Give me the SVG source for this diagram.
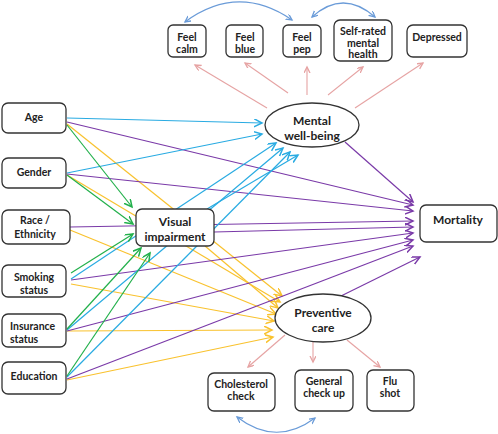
<svg xmlns="http://www.w3.org/2000/svg" width="498" height="434" viewBox="0 0 498 434">
<style>
.box{fill:#fff;stroke:#333;stroke-width:1.3}
.t{font-family:Lato,"Open Sans","Liberation Sans",sans-serif;font-weight:bold;fill:#222;text-anchor:middle}
.s{font-size:10.5px}
.m{font-size:12px}
.c{stroke:#29abe2;stroke-width:1.2;fill:none;marker-end:url(#hc)}
.p{stroke:#7a3aa8;stroke-width:1.2;fill:none;marker-end:url(#hp)}
.y{stroke:#f9c22e;stroke-width:1.2;fill:none;marker-end:url(#hy)}
.g{stroke:#22b04b;stroke-width:1.2;fill:none;marker-end:url(#hg)}
.k{stroke:#e6a3a3;stroke-width:1.1;fill:none;marker-end:url(#hk)}
.b{stroke:#6a9bd8;stroke-width:1.2;fill:none;marker-start:url(#hb);marker-end:url(#hb)}
</style>
<defs>
<marker id="hc" markerUnits="userSpaceOnUse" markerWidth="10" markerHeight="10" refX="8" refY="4" orient="auto"><path d="M0,0 L8,4 L0,8" fill="none" stroke="#29abe2" stroke-width="1.5"/></marker>
<marker id="hp" markerUnits="userSpaceOnUse" markerWidth="10" markerHeight="10" refX="8" refY="4" orient="auto"><path d="M0,0 L8,4 L0,8" fill="none" stroke="#7a3aa8" stroke-width="1.5"/></marker>
<marker id="hy" markerUnits="userSpaceOnUse" markerWidth="10" markerHeight="10" refX="8" refY="4" orient="auto"><path d="M0,0 L8,4 L0,8" fill="none" stroke="#f9c22e" stroke-width="1.5"/></marker>
<marker id="hg" markerUnits="userSpaceOnUse" markerWidth="10" markerHeight="10" refX="8" refY="4" orient="auto"><path d="M0,0 L8,4 L0,8" fill="none" stroke="#22b04b" stroke-width="1.5"/></marker>
<marker id="hk" markerUnits="userSpaceOnUse" markerWidth="8" markerHeight="8" refX="6" refY="3" orient="auto"><path d="M0,0 L6,3 L0,6" fill="none" stroke="#e6a3a3" stroke-width="1.3"/></marker>
<marker id="hb" markerUnits="userSpaceOnUse" markerWidth="8" markerHeight="8" refX="6" refY="3" orient="auto-start-reverse"><path d="M0,0 L6,3 L0,6" fill="none" stroke="#6a9bd8" stroke-width="1.3"/></marker>
</defs>
<g id="connectors">
<path class="b" d="M185,22 Q238,-17 292,20"/>
<path class="b" d="M312,17 Q343,-11 375,17"/>
<path class="b" d="M237,417 Q276,447 315,418"/>
<path class="k" d="M267,108 L195,65"/>
<path class="k" d="M288,93 L245,63"/>
<path class="k" d="M307,95 L307,67"/>
<path class="k" d="M328,95 L363,67"/>
<path class="k" d="M355,108 L423,63"/>
<path class="k" d="M285,335 L248,367"/>
<path class="k" d="M313,342 L313,362"/>
<path class="k" d="M347,340 L380,367"/>
<path class="y" d="M67,124 L282,296"/>
<path class="y" d="M67,175 L280,302"/>
<path class="y" d="M205,246 L278,308"/>
<path class="y" d="M70,230 L276,314"/>
<path class="y" d="M71,284 L274,321"/>
<path class="y" d="M67,331 L272,330"/>
<path class="y" d="M67,380 L273,337"/>
<path class="p" d="M67,122 L413,205"/>
<path class="p" d="M67,174 L413,211"/>
<path class="p" d="M70,227 L413,221"/>
<path class="p" d="M214,232 L413,227"/>
<path class="p" d="M71,280 L413,233"/>
<path class="p" d="M67,331 L413,240"/>
<path class="p" d="M67,379 L413,246"/>
<path class="p" d="M345,142 L413,202"/>
<path class="p" d="M341,296 L420,257"/>
<path class="c" d="M67,118 L262,123"/>
<path class="c" d="M67,173 L262,134"/>
<path class="c" d="M71,279 L276,143"/>
<path class="c" d="M67,330 L283,148"/>
<path class="c" d="M67,377 L290,152"/>
<path class="c" d="M207,209 L298,155"/>
<path class="g" d="M67,125 L132,207"/>
<path class="g" d="M67,175 L133,224"/>
<path class="g" d="M71,273 L133,234"/>
<path class="g" d="M67,329 L141,248"/>
<path class="g" d="M67,376 L150,253"/>
</g>
<g id="age"><rect class="box" x="2" y="103" width="64" height="30" rx="6"/><text class="t s" x="34" y="121">Age</text></g>
<g id="gender"><rect class="box" x="2" y="158" width="64" height="30" rx="6"/><text class="t s" x="34" y="176">Gender</text></g>
<g id="race"><rect class="box" x="2" y="210" width="68" height="34" rx="6"/><text class="t s" x="35" y="224">Race /</text><text class="t s" x="35" y="238">Ethnicity</text></g>
<g id="smoking"><rect class="box" x="2" y="265" width="64" height="32" rx="6"/><text class="t s" x="34" y="281">Smoking</text><text class="t s" x="34" y="294">status</text></g>
<g id="insurance"><rect class="box" x="2" y="314" width="64" height="33" rx="6"/><text class="t s" x="10" y="330" style="text-anchor:start">Insurance</text><text class="t s" x="10" y="343" style="text-anchor:start">status</text></g>
<g id="education"><rect class="box" x="2" y="362" width="64" height="32" rx="6"/><text class="t s" x="34" y="380">Education</text></g>
<g id="visual"><rect class="box" x="136" y="209" width="78" height="37" rx="6"/><text class="t m" x="175" y="226">Visual</text><text class="t m" x="175" y="240.5">impairment</text></g>
<g id="mental"><ellipse class="box" cx="312" cy="125" rx="47" ry="22"/><text class="t m" x="312" y="125">Mental</text><text class="t m" x="312" y="139.5">well-being</text></g>
<g id="mortality"><rect class="box" x="420" y="205" width="77" height="37" rx="6"/><text class="t m" x="458" y="224">Mortality</text></g>
<g id="preventive"><ellipse class="box" cx="323" cy="318" rx="48" ry="24"/><text class="t m" x="323" y="317">Preventive</text><text class="t m" x="323" y="331.5">care</text></g>
<g id="feelcalm"><rect class="box" x="168" y="25" width="38" height="32" rx="5"/><text class="t s" x="187" y="41">Feel</text><text class="t s" x="187" y="53">calm</text></g>
<g id="feelblue"><rect class="box" x="226" y="25" width="37" height="32" rx="5"/><text class="t s" x="245" y="41">Feel</text><text class="t s" x="245" y="53">blue</text></g>
<g id="feelpep"><rect class="box" x="283" y="25" width="38" height="32" rx="5"/><text class="t s" x="302" y="41">Feel</text><text class="t s" x="302" y="53">pep</text></g>
<g id="selfrated"><rect class="box" x="334" y="20" width="58" height="41" rx="6"/><text class="t s" x="363" y="35">Self-rated</text><text class="t s" x="363" y="47">mental</text><text class="t s" x="363" y="58">health</text></g>
<g id="depressed"><rect class="box" x="407" y="25" width="60" height="32" rx="6"/><text class="t s" x="437" y="41">Depressed</text></g>
<g id="cholesterol"><rect class="box" x="208" y="373" width="67" height="38" rx="6"/><text class="t s" x="241" y="388">Cholesterol</text><text class="t s" x="241" y="400">check</text></g>
<g id="general"><rect class="box" x="295" y="370" width="58" height="41" rx="6"/><text class="t s" x="324" y="385">General</text><text class="t s" x="324" y="397">check up</text></g>
<g id="flu"><rect class="box" x="367" y="370" width="47" height="41" rx="6"/><text class="t s" x="390" y="385">Flu</text><text class="t s" x="390" y="397">shot</text></g>
</svg>
